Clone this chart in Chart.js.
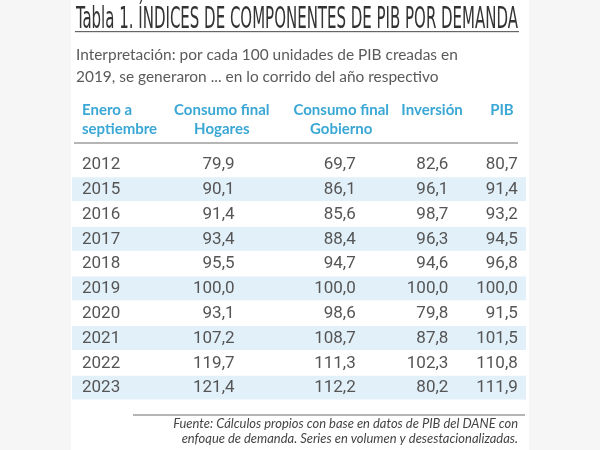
<!DOCTYPE html>
<html>
<head>
<meta charset="utf-8">
<script src="https://cdn.jsdelivr.net/npm/chart.js@4"></script>
<style>
  body { margin: 0; background: #f6f6f6; }
  canvas { display: block; }
</style>
</head>
<body>
<canvas id="tabla" width="600" height="450"></canvas>
<script>
// datos de la tabla (índices, 2019 = 100)
const years = ['2012', '2015', '2016', '2017', '2018', '2019', '2020', '2021', '2022', '2023'];
const hogares = [79.9, 90.1, 91.4, 93.4, 95.5, 100.0, 93.1, 107.2, 119.7, 121.4];
const gobierno = [69.7, 86.1, 85.6, 88.4, 94.7, 100.0, 98.6, 108.7, 111.3, 112.2];
const inversion = [82.6, 96.1, 98.7, 96.3, 94.6, 100.0, 79.8, 87.8, 102.3, 80.2];
const pib = [80.7, 91.4, 93.2, 94.5, 96.8, 100.0, 91.5, 101.5, 110.8, 111.9];

const headers = [['Enero a', 'septiembre'], ['Consumo final', 'Hogares'], ['Consumo final', 'Gobierno'], ['Inversión'], ['PIB']];
const title = 'Tabla 1. ÍNDICES DE COMPONENTES DE PIB POR DEMANDA';
const subtitle = ['Interpretación: por cada 100 unidades de PIB creadas en', '2019, se generaron ... en lo corrido del año respectivo'];
const footer = ['Fuente: Cálculos propios con base en datos de PIB del DANE con', 'enfoque de demanda. Series en volumen y desestacionalizadas.'];

// posiciones de columna en unidades de la escala x (0..100)
const colX = [2.2, 35.8, 62.5, 82.9, 98.2];
const headX = [2.2, 33.0, 59.3, 79.3, 97.3];
const headAlign = ['left', 'center', 'center', 'center', 'right'];

const blue = '#3aa7d5';
const textGray = '#555555';

const fmt = v => v.toFixed(1).replace('.', ',');

function fitSize(ctx, text, style, family, width) {
  ctx.font = style + ' 20px ' + family;
  return 20 * width / ctx.measureText(text).width;
}

const tablePlugin = {
  id: 'tabla',
  beforeDraw(chart) {
    const ctx = chart.ctx;
    const x = chart.scales.x;
    ctx.save();
    ctx.fillStyle = '#f6f6f6';
    ctx.fillRect(0, 0, chart.width, chart.height);
    ctx.fillStyle = '#ffffff';
    ctx.fillRect(71, 0, 458, chart.height);

    // título condensado
    ctx.fillStyle = '#333333';
    ctx.font = '30px "Liberation Sans Narrow", "DejaVu Sans Condensed", sans-serif';
    ctx.textBaseline = 'alphabetic';
    const tw = ctx.measureText(title).width;
    ctx.save();
    ctx.translate(76, 27.5);
    ctx.scale(442 / tw, 1);
    ctx.fillText(title, 0, 0);
    ctx.restore();
    ctx.fillStyle = '#666666';
    ctx.fillRect(75, 31, 444, 1.2);

    // subtítulo
    const ss = fitSize(ctx, subtitle[0], 'normal', 'Lato, sans-serif', 382);
    ctx.font = ss + 'px Lato, sans-serif';
    ctx.fillStyle = '#5a5a5a';
    ctx.fillText(subtitle[0], 76, 60);
    ctx.fillText(subtitle[1], 76, 82);

    // encabezados
    ctx.font = 'bold 15px Lato, sans-serif';
    ctx.fillStyle = blue;
    ctx.textBaseline = 'middle';
    headers.forEach((h, i) => {
      ctx.textAlign = headAlign[i];
      h.forEach((line, j) => ctx.fillText(line, x.getPixelForValue(headX[i]), 110 + j * 19.5));
    });
    ctx.fillStyle = '#b5b5b5';
    ctx.fillRect(74, 142, 444, 2);

    // fuente
    ctx.fillRect(133, 414, 392, 2);
    const fs = fitSize(ctx, footer[0], 'italic', 'Lato, sans-serif', 345);
    ctx.font = 'italic ' + fs + 'px Lato, sans-serif';
    ctx.fillStyle = '#444444';
    ctx.textAlign = 'right';
    ctx.textBaseline = 'alphabetic';
    ctx.fillText(footer[0], 518, 428);
    ctx.fillText(footer[1], 518, 443);
    ctx.restore();
  },
  afterDatasetsDraw(chart) {
    const ctx = chart.ctx;
    const x = chart.scales.x, y = chart.scales.y;
    const cols = [hogares, gobierno, inversion, pib];
    ctx.save();
    ctx.font = '17px "Liberation Sans Narrow", Roboto, sans-serif';
    ctx.fillStyle = textGray;
    ctx.textBaseline = 'middle';
    years.forEach((yr, i) => {
      const py = y.getPixelForValue(i) + 0.5;
      ctx.textAlign = 'left';
      ctx.fillText(yr, x.getPixelForValue(colX[0]), py);
      ctx.textAlign = 'right';
      cols.forEach((c, k) => ctx.fillText(fmt(c[i]), x.getPixelForValue(colX[k + 1]), py));
    });
    ctx.restore();
  }
};

new Chart(document.getElementById('tabla'), {
  type: 'bar',
  data: {
    labels: years,
    datasets: [{
      data: years.map((_, i) => i % 2 ? [0, 100] : null),
      backgroundColor: '#e2f0f9',
      barPercentage: 0.96,
      categoryPercentage: 1
    }]
  },
  options: {
    indexAxis: 'y',
    responsive: false,
    animation: false,
    events: [],
    layout: { padding: { top: 152, bottom: 50, left: 72, right: 74 } },
    scales: {
      x: { type: 'linear', min: 0, max: 100, display: false },
      y: { display: false }
    },
    plugins: { legend: { display: false }, tooltip: { enabled: false } }
  },
  plugins: [tablePlugin]
});
</script>
</body>
</html>
